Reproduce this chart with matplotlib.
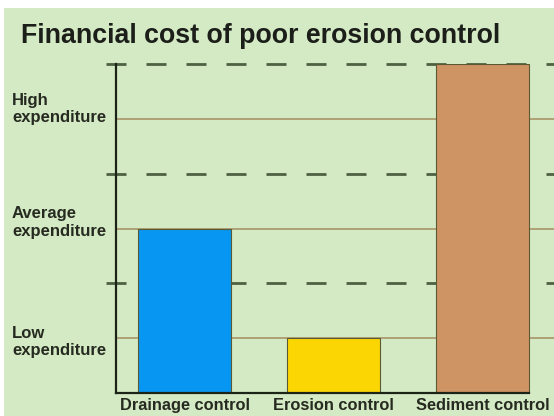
import matplotlib

matplotlib.use("Agg")
import matplotlib.pyplot as plt
from matplotlib.patches import Rectangle
from matplotlib.transforms import offset_copy

plt.rcParams["font.family"] = ["Liberation Sans", "DejaVu Sans"]

categories = ["Drainage control", "Erosion control", "Sediment control"]
cost_level = [3, 1, 6]
bar_colors = ["#0797f2", "#fcd603", "#cf9463"]

level_ticks = [1, 3, 5]
level_labels = ["Low\nexpenditure", "Average\nexpenditure", "High\nexpenditure"]
dashed_levels = [2, 4, 6]

W, H = 554, 416
fig = plt.figure(figsize=(W / 100, H / 100), dpi=100, facecolor="white")

# green panel with a thin white margin on the top and left
fig.patches.append(Rectangle((4 / W, 0), 1 - 4 / W, 1 - 8 / H, transform=fig.transFigure,
                             facecolor="#d4eac4", edgecolor="none", zorder=-10))

ax_left, ax_bottom = 115.5, 393
ax = fig.add_axes([ax_left / W, (H - ax_bottom) / H, (W - ax_left) / W, 329 / H])
ax.set_facecolor("none")

x = range(len(categories))
bar_width = 0.624
ax.bar(x, cost_level, width=bar_width, color=bar_colors, edgecolor="#5c5a34",
       linewidth=0.8, zorder=3)

ax.set_xlim(-0.466, 2.477)
ax.set_ylim(0, 6)

for lv in level_ticks:
    ax.axhline(lv, color="#a99468", linewidth=1.2, zorder=1)
for lv in dashed_levels:
    ax.axhline(lv, xmin=-0.021, color="#4e6142", linewidth=2.0, dashes=(7.2, 7.2),
               clip_on=False, zorder=2)

for side in ("top", "right"):
    ax.spines[side].set_visible(False)
for side in ("left", "bottom"):
    ax.spines[side].set_color("#1c2418")
    ax.spines[side].set_linewidth(1.6)
    ax.spines[side].set_zorder(4)
ax.spines["bottom"].set_bounds(-0.466, 2 + bar_width / 2)

ax.set_yticks([])
ax.set_xticks(list(x), labels=categories)
ax.tick_params(axis="x", length=0, pad=3.5)
for lbl in ax.get_xticklabels():
    lbl.set_fontsize(11.8)
    lbl.set_fontweight("bold")
    lbl.set_color("#262a20")

label_x = (12 - ax_left) / (W - ax_left)
label_shift = [-4, 6, 10]
for lv, text, dy in zip(level_ticks, level_labels, label_shift):
    tr = offset_copy(ax.get_yaxis_transform(), fig=fig, y=dy * 0.72, units="points")
    ax.text(label_x, lv, text, transform=tr, ha="left", va="center", fontsize=12,
            fontweight="bold", color="#262a20", linespacing=1.2)

fig.text(21 / W, 1 - 43 / H, "Financial cost of poor erosion control", ha="left",
         va="baseline", fontsize=19.3, fontweight="bold", color="#1c1e1a")

fig.savefig("out.png", dpi=100, facecolor=fig.get_facecolor())
